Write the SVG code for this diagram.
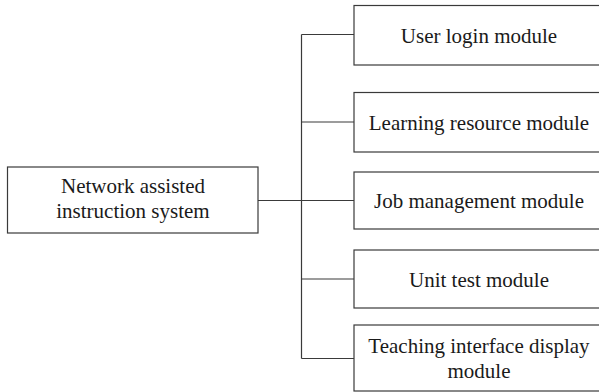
<svg xmlns="http://www.w3.org/2000/svg" width="599" height="392" viewBox="0 0 599 392">
<style>
.box{fill:#fff;stroke:#3a3a3a;stroke-width:1.2}
.conn{fill:none;stroke:#3a3a3a;stroke-width:1.2}
text{font-family:"Liberation Serif","Times New Roman",serif;font-size:21px;fill:#1a1a1a;text-anchor:middle}
</style>
<rect width="599" height="392" fill="#fff"/>
<g id="connectors">
<line class="conn" x1="258" y1="200.5" x2="354" y2="200.5"/>
<line class="conn" x1="301.5" y1="34.5" x2="301.5" y2="358.5"/>
<line class="conn" x1="301.5" y1="34.5" x2="354" y2="34.5"/>
<line class="conn" x1="301.5" y1="122" x2="354" y2="122"/>
<line class="conn" x1="301.5" y1="279" x2="354" y2="279"/>
<line class="conn" x1="301.5" y1="358.5" x2="354" y2="358.5"/>
</g>
<g id="root">
<rect class="box" x="7.5" y="167" width="250.5" height="66"/>
<text x="133" y="193.3">Network assisted</text>
<text x="133" y="218.3">instruction system</text>
</g>
<g id="user-login">
<rect class="box" x="354" y="5.5" width="252" height="59.5"/>
<text x="479" y="43">User login module</text>
</g>
<g id="learning-resource">
<rect class="box" x="354" y="92.5" width="252" height="59.5"/>
<text x="479" y="130">Learning resource module</text>
</g>
<g id="job-management">
<rect class="box" x="354" y="172" width="252" height="57"/>
<text x="479" y="208">Job management module</text>
</g>
<g id="unit-test">
<rect class="box" x="354" y="250" width="252" height="58"/>
<text x="479" y="287">Unit test module</text>
</g>
<g id="teaching-interface">
<rect class="box" x="354" y="325" width="252" height="66"/>
<text x="479" y="353.3">Teaching interface display</text>
<text x="479" y="378.3">module</text>
</g>
</svg>
